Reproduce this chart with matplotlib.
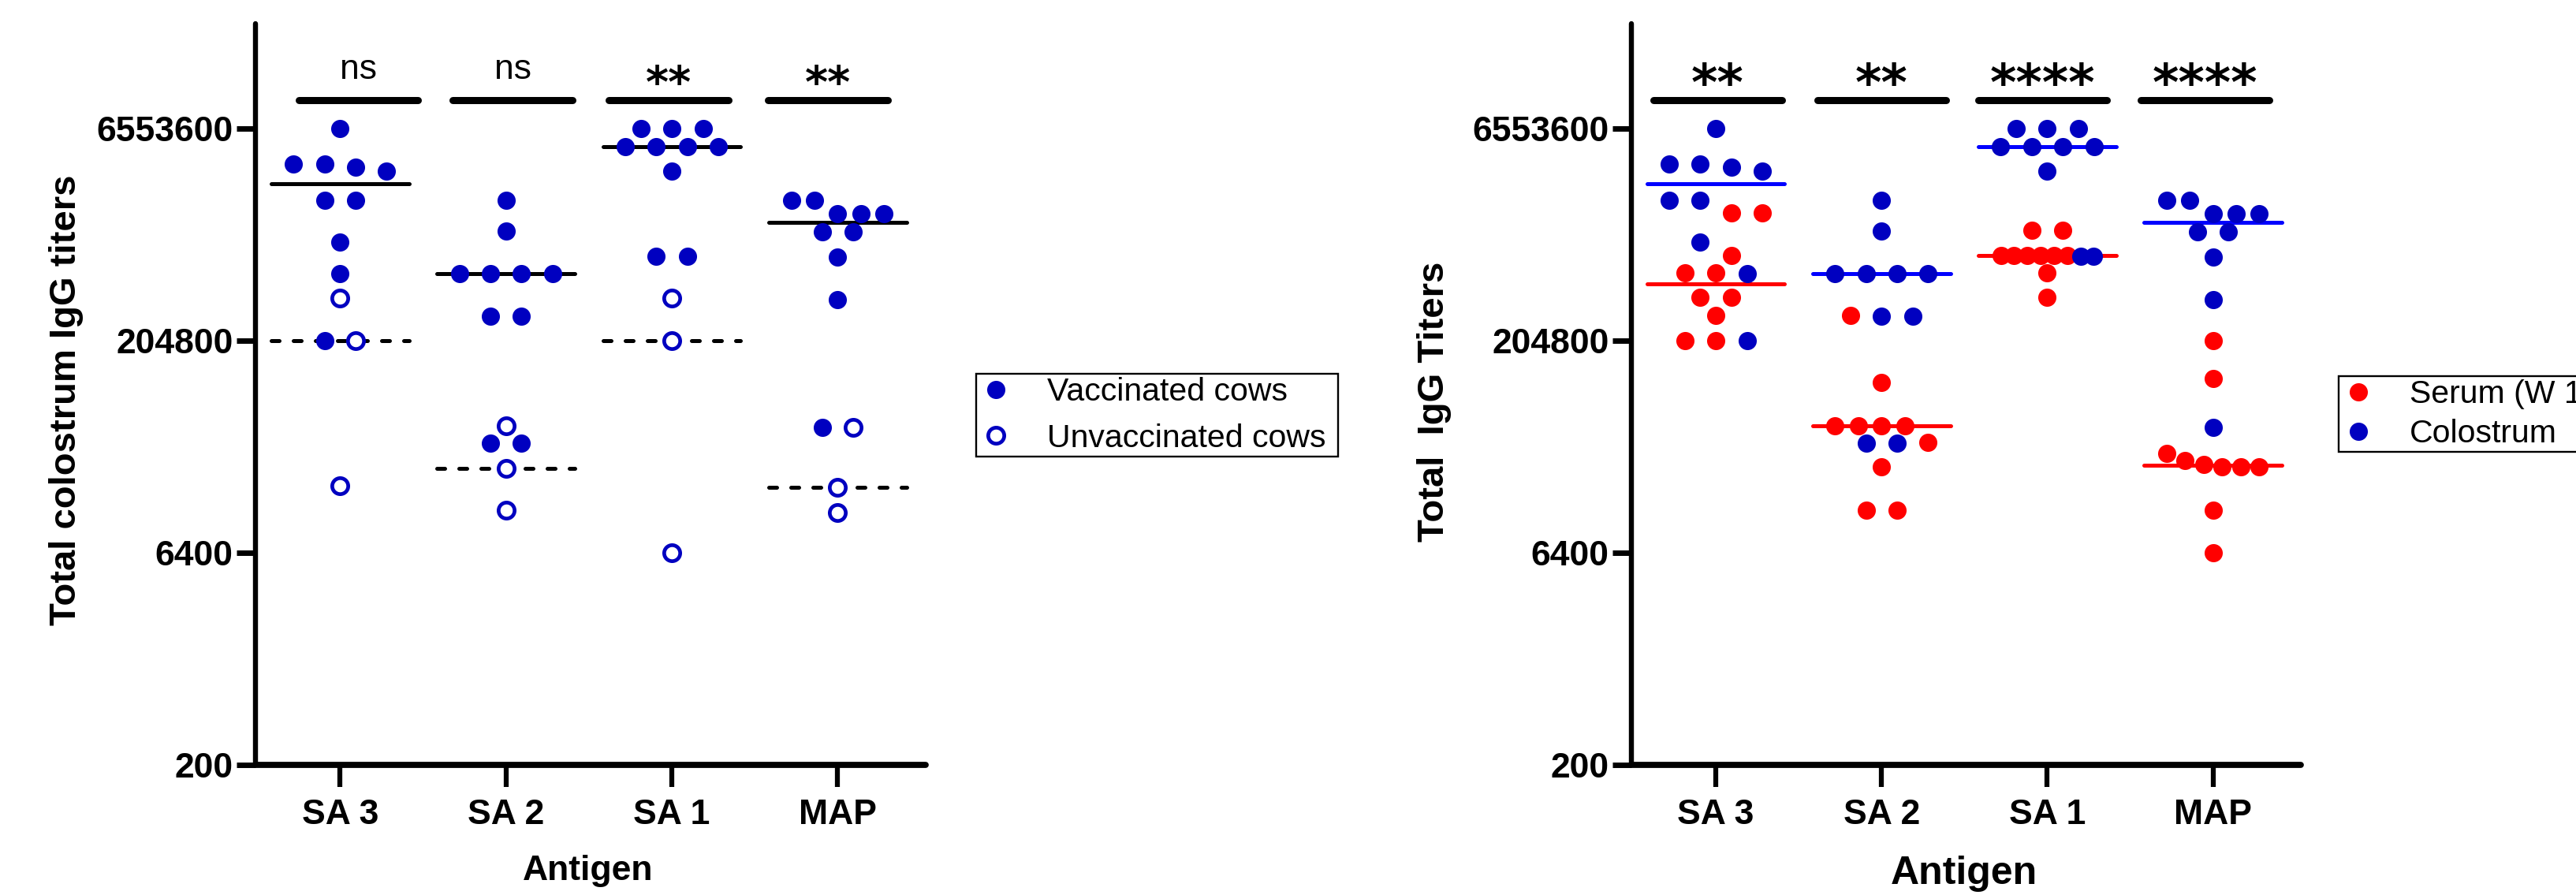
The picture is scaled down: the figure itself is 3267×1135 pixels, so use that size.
import numpy as np
import matplotlib
matplotlib.use('agg')
import matplotlib.pyplot as plt
from matplotlib.lines import Line2D

plt.rcParams['font.family'] = ['Liberation Sans', 'DejaVu Sans']

antigens = ['SA 3', 'SA 2', 'SA 1', 'MAP']
y_ticks = [200, 6400, 204800, 6553600]

# colostrum IgG titers of vaccinated cows (SA 3, SA 2, SA 1, MAP)
vaccinated = [
    [6553600, 3680000, 3680000, 3480000, 3276800, 2030000, 2030000, 1030000, 611000, 204800],
    [2030000, 1230000, 611000, 611000, 611000, 611000, 305000, 305000, 38400, 38400],
    [6553600, 6553600, 6553600, 4890000, 4890000, 4890000, 4890000, 3276800, 811000, 811000],
    [2030000, 2030000, 1630000, 1630000, 1630000, 1210000, 1210000, 800000, 400000, 49700],
]
# colostrum IgG titers of unvaccinated cows
unvaccinated = [
    [409600, 204800, 19100],
    [51200, 25600, 12800],
    [409600, 204800, 6400],
    [49700, 18700, 12300],
]
# serum IgG titers of vaccinated cows
serum = [
    [1660000, 1660000, 823000, 619000, 619000, 417000, 417000, 310000, 204800, 204800],
    [310000, 104000, 51200, 51200, 51200, 51200, 39000, 26100, 12800, 12800],
    [1250000, 1250000, 823000, 823000, 823000, 823000, 823000, 823000, 619000, 417000],
    [204800, 110000, 32300, 29100, 27300, 26100, 26100, 26100, 12800, 6400],
]
sig_left = ['ns', 'ns', '**', '**']
sig_right = ['**', '**', '****', '****']

DARKBLUE = '#0000C0'
W, H = 3267, 1135


def swarm_offsets(series, thr=0.4, step=0.1875, half=0.28):
    # Prism-like layout: points with close values share a row, rows are centred
    vals = np.log2(np.concatenate([np.asarray(s, float) for s in series]))
    order = np.argsort(-vals, kind='stable')
    rows, cur = [], []
    for i in order:
        if cur and vals[cur[0]] - vals[i] > thr:
            rows.append(cur)
            cur = []
        cur.append(i)
    rows.append(cur)
    off = np.zeros(len(vals))
    for r in rows:
        n = len(r)
        gap = step if n <= 4 else 2 * half / (n - 1)
        off[r] = (np.arange(n) - (n - 1) / 2) * gap
    out, k = [], 0
    for s in series:
        out.append(off[k:k + len(s)])
        k += len(s)
    return out


def style_axes(ax):
    ax.set_yscale('log', base=2)
    ax.set_ylim(200, 3.65e7)
    ax.set_xlim(-0.51, 3.53)
    ax.yaxis.set_major_locator(matplotlib.ticker.FixedLocator(y_ticks))
    ax.yaxis.set_major_formatter(matplotlib.ticker.FixedFormatter([str(v) for v in y_ticks]))
    ax.yaxis.set_minor_locator(matplotlib.ticker.NullLocator())
    ax.set_xticks(range(len(antigens)))
    ax.set_xticklabels(antigens)
    for s in ['top', 'right']:
        ax.spines[s].set_visible(False)
    ax.spines['left'].set_linewidth(4.6)
    ax.spines['bottom'].set_linewidth(5.6)
    for s in ['left', 'bottom']:
        ax.spines[s].set_capstyle('round')
    ax.tick_params(axis='y', length=17, width=5, pad=3.5, labelsize=32)
    ax.tick_params(axis='x', length=20, width=4.5, pad=11, labelsize=32)
    for lab in ax.get_xticklabels() + ax.get_yticklabels():
        lab.set_fontweight('bold')


def median_line(ax, i, vals, color, ls='-'):
    m = np.median(vals)
    kw = dict(color=color, lw=3.6, solid_capstyle='round', dash_capstyle='round', zorder=2)
    if ls == '--':
        kw['dashes'] = (2, 3.6)
    ax.plot([i - 0.415, i + 0.415], [m, m], **kw)


def sig_bars(ax, labels, dx, width, star_size, ns_off, star_off):
    bar_y = 1.05e7
    for i, s in enumerate(labels):
        c = i + dx[i]
        ax.plot([c - width / 2, c + width / 2], [bar_y, bar_y], color='black', lw=6.5,
                solid_capstyle='round', clip_on=False)
        if s == 'ns':
            ax.annotate(s, (c, bar_y), xytext=(0, ns_off), textcoords='offset points',
                        ha='center', va='baseline', fontsize=32, annotation_clip=False)
        else:
            ax.annotate(s, (c, bar_y), xytext=(0, star_off), textcoords='offset points',
                        ha='center', va='baseline', fontsize=star_size, family='DejaVu Sans',
                        fontweight='bold', annotation_clip=False)


fig = plt.figure(figsize=(W / 100, H / 100), dpi=100)
ax1 = fig.add_axes([324 / W, (H - 970) / H, 850 / W, 940 / H])
ax2 = fig.add_axes([2069 / W, (H - 970) / H, 849 / W, 940 / H])

# Left panel: vaccinated vs unvaccinated colostrum
for i in range(len(antigens)):
    off_v, off_u = swarm_offsets([vaccinated[i], unvaccinated[i]])
    median_line(ax1, i, vaccinated[i], 'black')
    median_line(ax1, i, unvaccinated[i], 'black', ls='--')
    ax1.plot(i + off_v, vaccinated[i], 'o', ms=16.6, mfc=DARKBLUE, mec=DARKBLUE, mew=0,
             ls='none', zorder=3, clip_on=False)
    ax1.plot(i + off_u, unvaccinated[i], 'o', ms=14.6, mfc='white', mec=DARKBLUE, mew=3.4,
             ls='none', zorder=3, clip_on=False)
style_axes(ax1)
sig_bars(ax1, sig_left, [0.11, 0.04, -0.02, -0.06], 0.72, 40, 19, 3)
ax1.text(-0.2824, 0.4926, 'Total colostrum IgG titers', transform=ax1.transAxes, rotation=90,
         ha='center', va='center', fontsize=34, fontweight='bold')
ax1.text(0.4965, -0.1426, 'Antigen', transform=ax1.transAxes, ha='center', va='center',
         fontsize=32, fontweight='bold')

# Right panel: serum vs colostrum
for i in range(len(antigens)):
    off_s, off_c = swarm_offsets([serum[i], vaccinated[i]])
    median_line(ax2, i, serum[i], '#FF0000')
    median_line(ax2, i, vaccinated[i], '#0000FF')
    ax2.plot(i + off_s, serum[i], 'o', ms=16.6, mfc='#FF0000', mew=0, ls='none', zorder=3,
             clip_on=False)
    ax2.plot(i + off_c, vaccinated[i], 'o', ms=16.6, mfc=DARKBLUE, mew=0, ls='none', zorder=4,
             clip_on=False)
style_axes(ax2)
sig_bars(ax2, sig_right, [0.01, 0.0, -0.03, -0.05], 0.775, 46, 19, 0)
ax2.text(-0.2945, 0.4904, 'Total  IgG Titers', transform=ax2.transAxes, rotation=90,
         ha='center', va='center', fontsize=34, fontweight='bold')
ax2.text(0.497, -0.1468, 'Antigen', transform=ax2.transAxes, ha='center', va='center',
         fontsize=36, fontweight='bold')

# Legends
leg_kw = dict(loc='upper left', mode='expand', fontsize=29.5, frameon=True, fancybox=False,
              edgecolor='black', framealpha=1, borderpad=0.1, handlelength=1.0,
              handletextpad=1.1, borderaxespad=0, numpoints=1)
h1 = [Line2D([], [], marker='o', ls='none', ms=16.6, mfc=DARKBLUE, mew=0),
      Line2D([], [], marker='o', ls='none', ms=14.6, mfc='white', mec=DARKBLUE, mew=3.4)]
lg1 = fig.legend(h1, ['Vaccinated cows', 'Unvaccinated cows'],
                 bbox_to_anchor=(1238 / W, (H - 582) / H, 459 / W, 108 / H),
                 labelspacing=0.5, **leg_kw)
lg1.get_frame().set_linewidth(1.7)
h2 = [Line2D([], [], marker='o', ls='none', ms=16.6, mfc='#FF0000', mew=0),
      Line2D([], [], marker='o', ls='none', ms=16.6, mfc=DARKBLUE, mew=0)]
lg2 = fig.legend(h2, ['Serum (W 12)', 'Colostrum'],
                 bbox_to_anchor=(2966 / W, (H - 576) / H, 450 / W, 99 / H),
                 labelspacing=0.3, **leg_kw)
lg2.get_frame().set_linewidth(1.7)

fig.savefig('out.png', dpi=100)
